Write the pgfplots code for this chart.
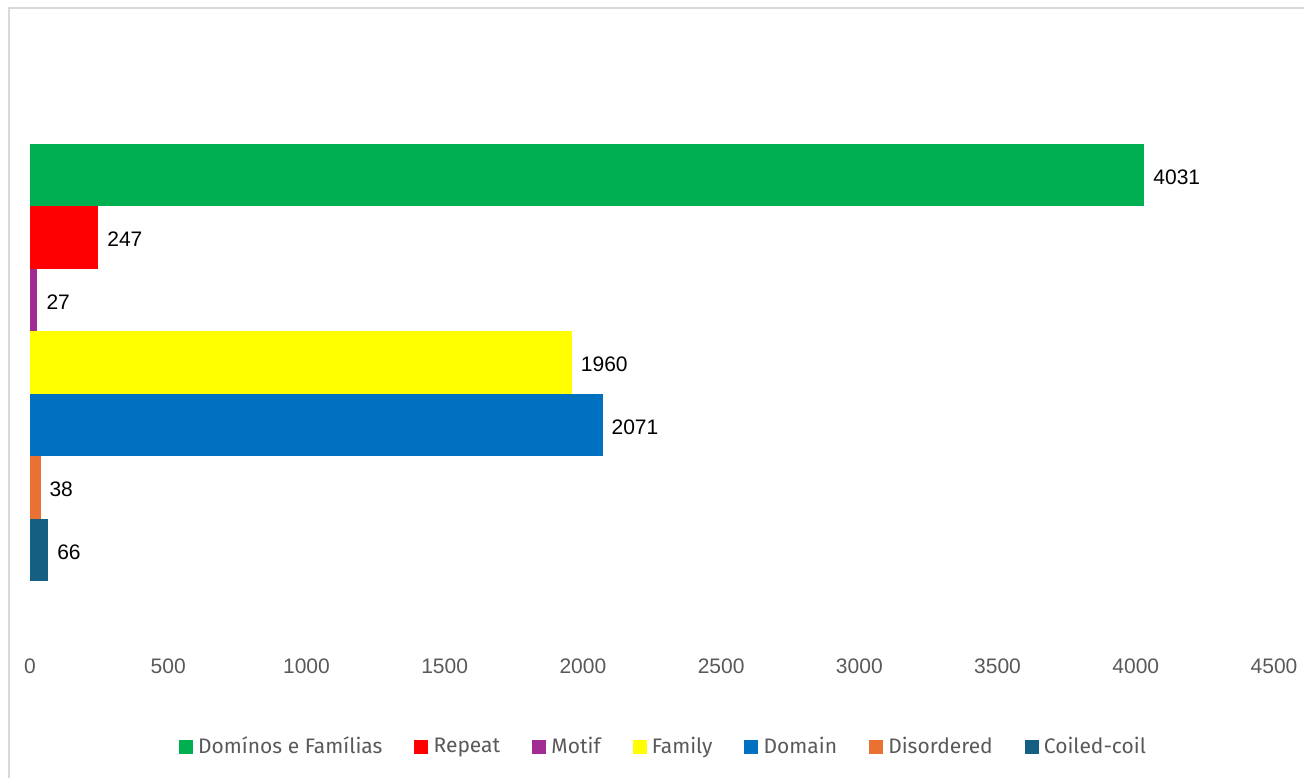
\documentclass[border=0pt]{standalone}
\usepackage{fontspec}
\setmainfont{Liberation Sans}
\newfontfamily\legfont{Fira Sans}
\usepackage{pgfplots}
\pgfplotsset{compat=1.18}
\definecolor{cgreen}{HTML}{00B050}
\definecolor{cred}{HTML}{FF0000}
\definecolor{cpurple}{HTML}{A02B93}
\definecolor{cyellow}{HTML}{FFFF00}
\definecolor{cblue}{HTML}{0070C0}
\definecolor{corange}{HTML}{E97132}
\definecolor{cteal}{HTML}{156082}
\definecolor{ctick}{HTML}{595959}
\definecolor{cframe}{HTML}{D9D9D9}
\begin{document}
\begin{tikzpicture}
\useasboundingbox (0,0) rectangle (652pt,389pt);
\draw[cframe, line width=1pt] (4.5pt,0) -- (4.5pt,385pt) -- (652pt,385pt);
\begin{axis}[
  at={(15pt,64pt)}, anchor=south west,
  scale only axis, width=622pt, height=287.5pt,
  xbar, bar width=1, 
  xmin=0, xmax=4500, ymin=-1.6, ymax=7.6,
  axis line style={draw=none},
  major tick length=0pt,
  xtick={0,500,...,4500},
  ytick=\empty,
  /pgf/number format/assume math mode=true,
  /pgf/number format/1000 sep={},
  ticklabel style={font=\fontsize{10.5pt}{12pt}\selectfont, text=ctick},
  xticklabel style={yshift=-1pt},
  nodes near coords,
  nodes near coords style={font=\fontsize{10.5pt}{12pt}\selectfont, text=black, anchor=west, xshift=1pt, yshift=-1pt},
  every node near coord/.append style={/pgf/number format/1000 sep={}},
  legend columns=7,
  legend style={draw=none, at={(0.51,-0.168)}, anchor=center,
    font=\legfont\fontsize{10.5pt}{12pt}\selectfont, text=ctick,
    /tikz/every even column/.append style={column sep=14pt}},
  legend image code/.code={\fill[#1] (0pt,-3.5pt) rectangle (7pt,3.5pt); \path (7.6pt,0);},
]
\addplot[fill=cgreen, draw=none, bar shift=0] coordinates {(4031,6)};
\addlegendentry{Domínos e Famílias}
\addplot[fill=cred, draw=none, bar shift=0] coordinates {(247,5)};
\addlegendentry{Repeat}
\addplot[fill=cpurple, draw=none, bar shift=0] coordinates {(27,4)};
\addlegendentry{Motif}
\addplot[fill=cyellow, draw=none, bar shift=0] coordinates {(1960,3)};
\addlegendentry{Family}
\addplot[fill=cblue, draw=none, bar shift=0] coordinates {(2071,2)};
\addlegendentry{Domain}
\addplot[fill=corange, draw=none, bar shift=0] coordinates {(38,1)};
\addlegendentry{Disordered}
\addplot[fill=cteal, draw=none, bar shift=0] coordinates {(66,0)};
\addlegendentry{Coiled-coil}
\end{axis}
\end{tikzpicture}
\end{document}
